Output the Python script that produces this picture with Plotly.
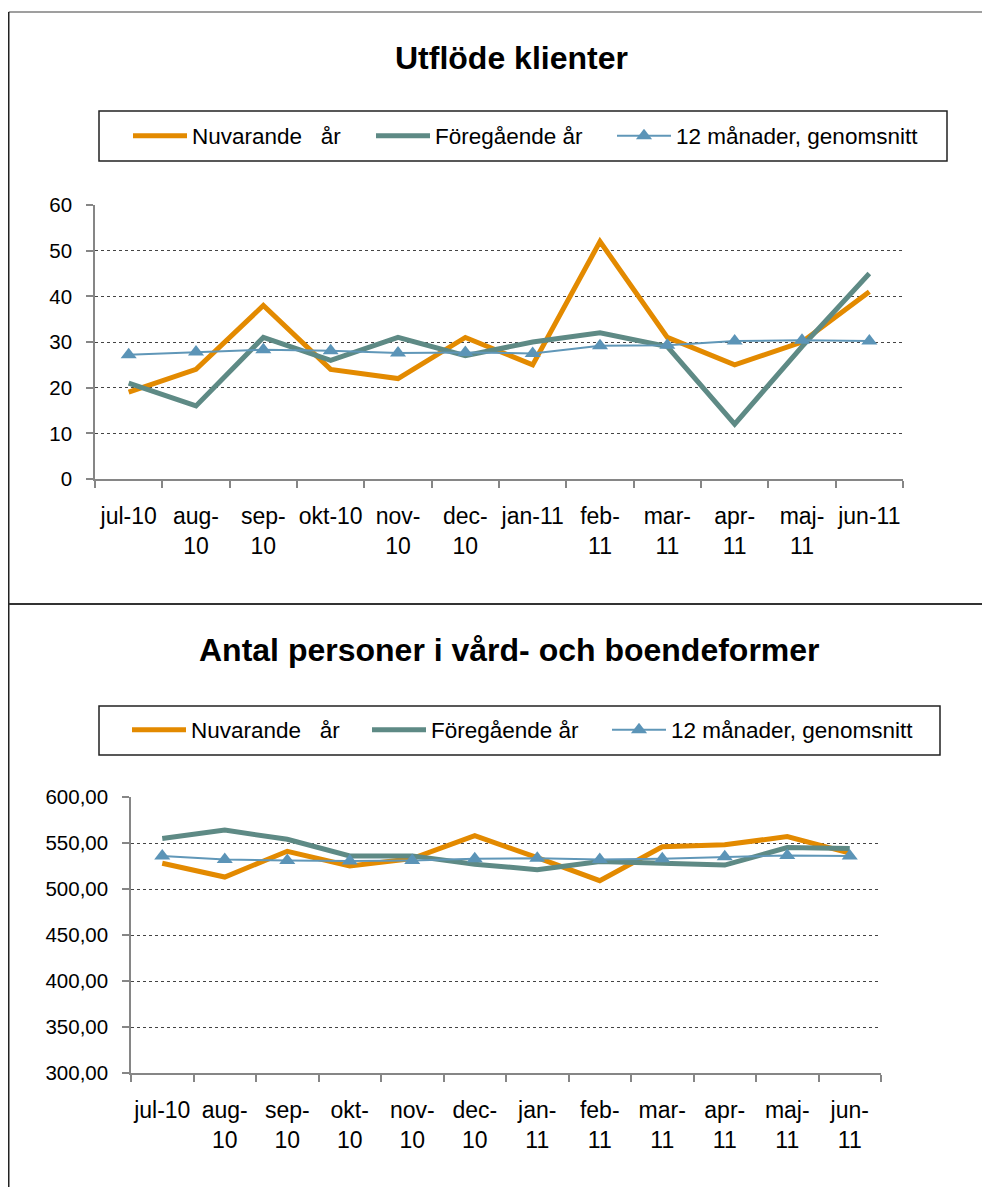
import plotly.graph_objects as go

months = ["jul-10", "aug-10", "sep-10", "okt-10", "nov-10", "dec-10",
          "jan-11", "feb-11", "mar-11", "apr-11", "maj-11", "jun-11"]
ticks_top = ["jul-10", "aug-<br>10", "sep-<br>10", "okt-10", "nov-<br>10", "dec-<br>10",
             "jan-11", "feb-<br>11", "mar-<br>11", "apr-<br>11", "maj-<br>11", "jun-11"]
ticks_bottom = ["jul-10", "aug-<br>10", "sep-<br>10", "okt-<br>10", "nov-<br>10", "dec-<br>10",
                "jan-<br>11", "feb-<br>11", "mar-<br>11", "apr-<br>11", "maj-<br>11", "jun-<br>11"]

# Utflöde klienter
utf_nuv = [19, 24, 38, 24, 22, 31, 25, 52, 31, 25, 30, 41]
utf_fore = [21, 16, 31, 26, 31, 27, 30, 32, 29, 12, 29, 45]
utf_avg = [27.2, 27.8, 28.3, 28.1, 27.6, 27.7, 27.5, 29.2, 29.3, 30.2, 30.4, 30.2]

# Antal personer i vård- och boendeformer
ant_nuv = [528, 513, 541, 525, 533, 558, 534, 509, 546, 548, 557, 539]
ant_fore = [555, 564, 554, 536, 536, 527, 521, 530, 528, 526, 545, 544]
ant_avg = [536, 532, 531, 530.5, 531, 533, 533.5, 532, 533, 535, 536.5, 536]

names = ["Nuvarande\u00a0\u00a0\u00a0år", "Föregående år", "12 månader, genomsnitt"]

ORANGE = "#E38A00"
GREEN = "#5E8A85"
BLUE = "#6097B8"
FONT = "Liberation Sans, Arial, sans-serif"

W, H = 990, 1187
OFF = 8  # page body margin offset


def px_x(x):
    return (x - OFF) / W


def px_y(y):
    return 1 - (y - OFF) / H


fig = go.Figure()

for (nuv, fore, avg, xa, ya, leg_a, leg_b) in [
    (utf_nuv, utf_fore, utf_avg, "x", "y", "legend", "legend3"),
    (ant_nuv, ant_fore, ant_avg, "x2", "y2", "legend2", "legend4"),
]:
    fig.add_trace(go.Scatter(x=months, y=nuv, name=names[0], mode="lines",
                             line=dict(color=ORANGE, width=5), xaxis=xa, yaxis=ya, legend=leg_a))
    fig.add_trace(go.Scatter(x=months, y=fore, name=names[1], mode="lines",
                             line=dict(color=GREEN, width=5), xaxis=xa, yaxis=ya, legend=leg_a))
    fig.add_trace(go.Scatter(x=months, y=avg, name=names[2], mode="lines+markers",
                             line=dict(color=BLUE, width=2),
                             marker=dict(symbol="triangle-up", size=14, color="#5B94B7"),
                             xaxis=xa, yaxis=ya, legend=leg_b))

axis_common = dict(showline=True, linecolor="#868686", linewidth=1.5,
                   ticks="outside", tickcolor="#868686", ticklen=7, tickwidth=1.5,
                   zeroline=False, automargin=False)

legend_common = dict(orientation="h", xanchor="left", yanchor="middle",
                     font=dict(size=22.5), itemwidth=54,
                     bgcolor="rgba(0,0,0,0)", borderwidth=0, traceorder="normal")

cat_range = [-0.5, len(months) - 0.5]

fig.update_layout(
    width=W, height=H, autosize=False,
    margin=dict(l=0, r=0, t=0, b=0, pad=0),
    paper_bgcolor="white", plot_bgcolor="white",
    separators=", ",
    font=dict(family=FONT, color="black"),
    showlegend=True,
    xaxis=dict(domain=[px_x(95), px_x(903)], anchor="y", type="category", range=cat_range,
               tickvals=months, ticktext=ticks_top, tickson="boundaries", tickangle=0,
               showgrid=False, tickfont=dict(size=23), ticklabelstandoff=16,
               **axis_common),
    yaxis=dict(domain=[px_y(479), px_y(205)], anchor="x", range=[0, 60], dtick=10,
               showgrid=True, gridcolor="#444444", griddash="dot", gridwidth=1,
               tickfont=dict(size=20.5), ticklabelstandoff=10,
               **axis_common),
    xaxis2=dict(domain=[px_x(131), px_x(881)], anchor="y2", type="category", range=cat_range,
                tickvals=months, ticktext=ticks_bottom, tickson="boundaries", tickangle=0,
                showgrid=False, tickfont=dict(size=23), ticklabelstandoff=16,
                **axis_common),
    yaxis2=dict(domain=[px_y(1073), px_y(797)], anchor="x2", range=[300, 600], dtick=50,
                tickformat=".2f",
                showgrid=True, gridcolor="#444444", griddash="dot", gridwidth=1,
                tickfont=dict(size=20.5), ticklabelstandoff=10,
                **axis_common),
    legend=dict(x=px_x(128), y=px_y(136), entrywidth=174, entrywidthmode="pixels",
                **legend_common),
    legend3=dict(x=px_x(612), y=px_y(136), **legend_common),
    legend2=dict(x=px_x(127), y=px_y(730), entrywidth=171, entrywidthmode="pixels",
                 **legend_common),
    legend4=dict(x=px_x(607), y=px_y(730), **legend_common),
    annotations=[
        dict(text="<b>Utflöde klienter</b>", x=px_x(512), y=px_y(58), xref="paper", yref="paper",
             xanchor="center", yanchor="middle", showarrow=False, font=dict(size=32)),
        dict(text="<b>Antal personer i vård- och boendeformer</b>", x=px_x(509), y=px_y(650),
             xref="paper", yref="paper", xanchor="center", yanchor="middle", showarrow=False,
             font=dict(size=32)),
    ],
    shapes=[
        dict(type="line", xref="paper", yref="paper", x0=px_x(8.75), x1=1, y0=px_y(12), y1=px_y(12),
             line=dict(color="#7F7F7F", width=1.5)),
        dict(type="line", xref="paper", yref="paper", x0=px_x(8.75), x1=px_x(8.75), y0=px_y(12), y1=0,
             line=dict(color="#222222", width=1.5)),
        dict(type="line", xref="paper", yref="paper", x0=px_x(8.75), x1=1, y0=px_y(604), y1=px_y(604),
             line=dict(color="#333333", width=2)),
        dict(type="rect", xref="paper", yref="paper", x0=px_x(99), x1=px_x(947),
             y0=px_y(161), y1=px_y(111), line=dict(color="#222222", width=1.5)),
        dict(type="rect", xref="paper", yref="paper", x0=px_x(99), x1=px_x(940),
             y0=px_y(755), y1=px_y(706), line=dict(color="#222222", width=1.5)),
    ],
)

fig.write_html("out.html")
